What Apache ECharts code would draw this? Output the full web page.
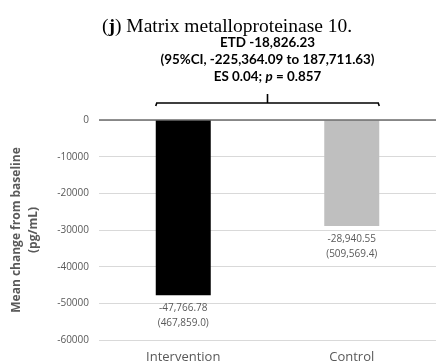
<!DOCTYPE html>
<html>
<head>
<meta charset="utf-8">
<script src="https://cdn.jsdelivr.net/npm/echarts@6/dist/echarts.min.js"></script>
<style>
  html, body { margin: 0; padding: 0; background: #fff; }
  #chart { width: 436px; height: 364px; }
</style>
</head>
<body>
<div id="chart"></div>
<script>
// Groups and their mean change from baseline (pg/mL), with SD in brackets
const groups = ['Intervention', 'Control'];
const meanChange = [-47766.78, -28940.55];
const sdLabels = ['(467,859.0)', '(509,569.4)'];
const barColors = ['#000000', '#bfbfbf'];

// Axis ticks
const yMin = -60000;
const yMax = 0;
const yStep = 10000;

// Between-group comparison text
const etdLine = 'ETD -18,826.23';
const ciLine = '(95%CI, -225,364.09 to 187,711.63)';
const esLine = 'ES 0.04; ';
const pLine = ' = 0.857';

const panelTitle = 'Matrix metalloproteinase 10.';

const BAR_W = 55;
const GREY = '#595959';

const chart = echarts.init(document.getElementById('chart'), null, { renderer: 'canvas' });

function fmt(v) {
  return v.toLocaleString('en-US', { minimumFractionDigits: 2, maximumFractionDigits: 2 });
}

const option = {
  animation: false,
  title: {
    text: '({b|j}) ' + panelTitle,
    left: 97,
    top: 12,
    textStyle: {
      fontFamily: 'Liberation Serif',
      fontSize: 19.5,
      fontWeight: 'normal',
      color: '#000',
      rich: {
        b: { fontFamily: 'Liberation Serif', fontSize: 19.5, fontWeight: 'bold', color: '#000' }
      }
    }
  },
  grid: { left: 83, right: 0, top: 120, bottom: 24, containLabel: false },
  xAxis: {
    type: 'category',
    data: groups,
    position: 'bottom',
    axisLine: { show: false },
    axisTick: { show: false },
    axisLabel: {
      color: GREY,
      fontFamily: 'Open Sans',
      fontSize: 13,
      margin: 11
    }
  },
  yAxis: {
    type: 'value',
    min: yMin,
    max: yMax,
    interval: yStep,
    name: 'Mean change from baseline\n(pg/mL)',
    nameLocation: 'middle',
    nameGap: 57,
    nameTextStyle: {
      color: GREY,
      fontFamily: 'Open Sans',
      fontWeight: 'bold',
      fontSize: 12,
      lineHeight: 17
    },
    axisLine: { show: false },
    axisTick: { show: false },
    axisLabel: {
      color: GREY,
      fontFamily: 'Open Sans',
      fontSize: 10,
      margin: 10,
      formatter: v => String(v)
    },
    splitLine: { lineStyle: { color: '#d9d9d9', width: 1 } }
  },
  series: [{
    type: 'bar',
    barWidth: BAR_W,
    data: meanChange.map((v, i) => ({ value: v, itemStyle: { color: barColors[i] } })),
    label: {
      show: true,
      position: 'bottom',
      distance: 6,
      color: GREY,
      fontFamily: 'Open Sans',
      fontSize: 10,
      lineHeight: 15,
      formatter: p => fmt(p.value) + '\n' + sdLabels[p.dataIndex]
    },
    markLine: {
      silent: true,
      symbol: 'none',
      label: { show: false },
      lineStyle: { color: '#6b6b6b', width: 1.5, type: 'solid' },
      data: [{ yAxis: 0 }]
    },
    z: 3
  }]
};

chart.setOption(option);

// Bracket spanning the outer edges of both bars, with the comparison text above it
function drawBracket() {
  const left = chart.convertToPixel({ xAxisIndex: 0 }, groups[0]) - BAR_W / 2;
  const right = chart.convertToPixel({ xAxisIndex: 0 }, groups[groups.length - 1]) + BAR_W / 2;
  const zeroY = chart.convertToPixel({ yAxisIndex: 0 }, 0);
  const y = zeroY - 17;
  const mid = (left + right) / 2;
  const txt = { fontFamily: 'Lato', fontWeight: 'bold', fontSize: 13.4, fill: '#000' };
  chart.setOption({
    graphic: [
      {
        type: 'polyline',
        shape: { points: [[left, y + 3], [left + 1, y], [right - 1, y], [right, y + 3]] },
        style: { stroke: '#000', lineWidth: 1.6, fill: null }
      },
      {
        type: 'line',
        shape: { x1: mid, y1: y, x2: mid, y2: y - 9 },
        style: { stroke: '#000', lineWidth: 1.6 }
      },
      {
        type: 'text',
        x: mid, y: 43,
        style: Object.assign({ text: etdLine, align: 'center', verticalAlign: 'middle' }, txt)
      },
      {
        type: 'text',
        x: mid, y: 60,
        style: Object.assign({ text: ciLine, align: 'center', verticalAlign: 'middle' }, txt)
      },
      {
        type: 'text',
        x: mid, y: 77,
        style: {
          text: '{b|' + esLine + '}{i|p}{b|' + pLine + '}',
          align: 'center',
          verticalAlign: 'middle',
          rich: {
            b: txt,
            i: Object.assign({}, txt, { fontStyle: 'italic' })
          }
        }
      }
    ]
  });
}
drawBracket();
</script>
</body>
</html>
